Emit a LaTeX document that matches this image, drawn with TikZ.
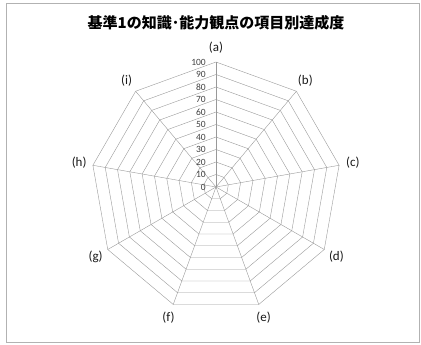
\documentclass[tikz,border=0pt]{standalone}
\usepackage{fontspec}
\setmainfont{Carlito}
\newfontfamily\jafont{Noto Sans CJK JP}
\begin{document}
\begin{tikzpicture}[x=1pt, y=1pt,
  grid/.style={draw=black!40, line width=0.4pt},
  tick/.style={anchor=east, inner sep=0pt, text=black!75, font=\fontsize{9.5}{9.5}\selectfont},
  axis/.style={inner sep=0pt, text=black!90, font=\fontsize{13}{13}\selectfont}]
    \useasboundingbox (0,0) rectangle (421,345);
    \draw[black!30] (6,3) rectangle (419,342);
    \node (title) at (216,322) {\jafont\bfseries\fontsize{15}{15}\selectfont 基準1の知識･能力観点の項目別達成度};
    \begin{scope}[shift={(216,158)}]
    \coordinate (o) at (0,0);
    % rings every 10
    \foreach \r in {1,...,10}{
      \pgfmathsetmacro\rad{12.5*\r}
      \draw[grid] (90:\rad) \foreach \k in {1,...,8}{ -- (90-40*\k:\rad)} -- cycle;
    }
    % spokes and item labels
    \foreach \k [count=\n] in {a,b,c,d,e,f,g,h,i}{
      \coordinate (v\k) at (90-40*\n+40:125);
      \draw[grid] (o) -- (v\k);
      \node[axis] (l\k) at (90-40*\n+40:139) {(\k)};
    }
    % scale
    \foreach \v in {0,10,...,100}
      \node[tick] (t\v) at (-10,1.25*\v) {\v};
    \end{scope}
\end{tikzpicture}
\end{document}
